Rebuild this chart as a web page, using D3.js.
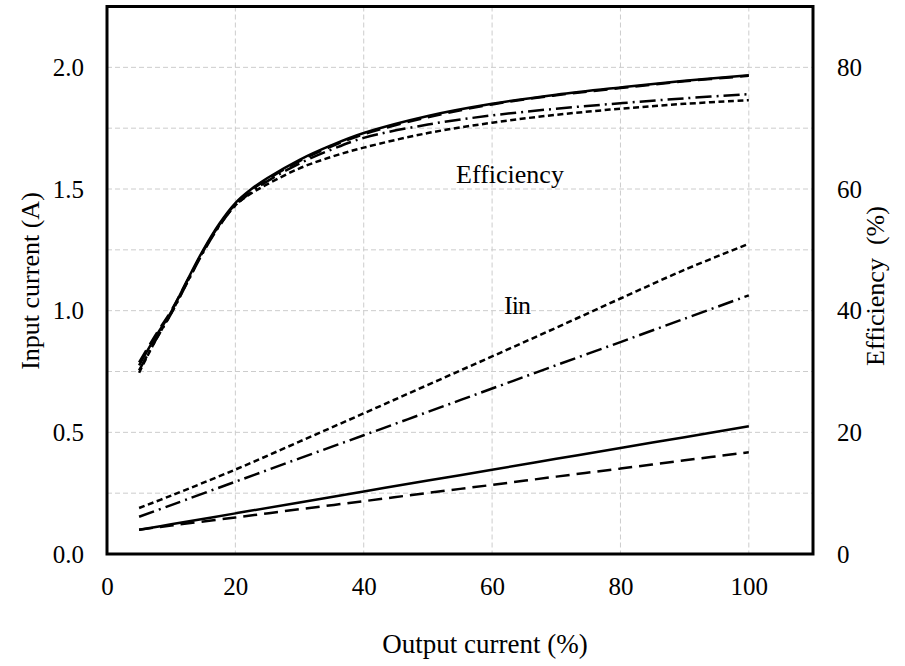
<!DOCTYPE html>
<html>
<head>
<meta charset="utf-8">
<script src="https://cdn.jsdelivr.net/npm/d3@7"></script>
<style>
  html, body { margin: 0; padding: 0; background: #fff; }
  svg text { font-family: "Liberation Serif", "Times New Roman", serif; fill: #000; }
</style>
</head>
<body>
<svg id="chart" width="905" height="666"></svg>
<script>
// Output current (%) sample points
const effLoad = [5, 7.5, 10, 12.5, 15, 17.5, 20, 22.5, 25, 30, 35, 40, 50, 60, 70, 80, 90, 100];
const iinLoad = [5, 10, 20, 30, 40, 50, 60, 70, 80, 90, 100];

// Efficiency (%) for the four cases
const effSolid     = [31.0, 35.6, 39.8, 45.0, 50.0, 54.3, 57.7, 60.0, 61.8, 64.8, 67.2, 69.2, 72.0, 74.0, 75.5, 76.7, 77.8, 78.7];
const effLongDash  = [31.5, 35.9, 40.0, 44.9, 49.8, 54.1, 57.5, 59.8, 61.6, 64.6, 67.0, 69.0, 71.8, 73.9, 75.4, 76.6, 77.7, 78.6];
const effDashDot   = [30.2, 35.0, 39.5, 44.6, 49.6, 53.9, 57.3, 59.5, 61.3, 64.2, 66.5, 68.4, 70.6, 72.1, 73.2, 74.1, 74.9, 75.6];
const effShortDash = [29.8, 35.0, 39.6, 44.7, 49.8, 54.0, 57.3, 59.3, 60.8, 63.4, 65.3, 66.8, 69.2, 70.9, 72.2, 73.2, 74.0, 74.6];

// Input current (A) for the four cases
const iinSolid     = [0.100, 0.122, 0.167, 0.212, 0.257, 0.302, 0.346, 0.391, 0.436, 0.480, 0.525];
const iinLongDash  = [0.100, 0.117, 0.150, 0.184, 0.217, 0.251, 0.284, 0.318, 0.351, 0.385, 0.418];
const iinDashDot   = [0.153, 0.201, 0.297, 0.393, 0.488, 0.584, 0.680, 0.776, 0.871, 0.967, 1.063];
const iinShortDash = [0.189, 0.240, 0.347, 0.462, 0.578, 0.695, 0.812, 0.930, 1.050, 1.168, 1.275];

// Tick values
const xTicks = [0, 20, 40, 60, 80, 100];
const yLeftTicks = [0.0, 0.5, 1.0, 1.5, 2.0];
const yRightTicks = [0, 20, 40, 60, 80];
const xGrid = [20, 40, 60, 80, 100];
const yGrid = [0.25, 0.5, 0.75, 1.0, 1.25, 1.5, 1.75, 2.0];

// Line styles: solid, long dash, dash-dot, short dash
const styles = {
  solid: null,
  longDash: "14,7",
  dashDot: "16,5,2,5",
  shortDash: "6,3.5"
};

const svg = d3.select("#chart");
const plotL = 107, plotR = 813, plotT = 6.5, plotB = 554;

const x = d3.scaleLinear().domain([0, 110]).range([plotL, plotR]);
const yL = d3.scaleLinear().domain([0, 2.25]).range([plotB, plotT]);
const yR = d3.scaleLinear().domain([0, 90]).range([plotB, plotT]);

// Grid
const grid = svg.append("g").attr("stroke", "#cccccc").attr("stroke-width", 1)
  .attr("stroke-dasharray", "5,3");
grid.selectAll("line.v").data(xGrid).join("line")
  .attr("class", "v")
  .attr("x1", d => x(d)).attr("x2", d => x(d))
  .attr("y1", plotT).attr("y2", plotB);
grid.selectAll("line.h").data(yGrid).join("line")
  .attr("class", "h")
  .attr("x1", plotL).attr("x2", plotR)
  .attr("y1", d => yL(d)).attr("y2", d => yL(d));

// Axes (labels only, no tick marks)
const fmt1 = d3.format(".1f");
const xAxis = d3.axisBottom(x).tickValues(xTicks).tickSize(0).tickPadding(0);
const gx = svg.append("g").attr("transform", `translate(0,${plotB})`).call(xAxis);
gx.select(".domain").remove();
gx.selectAll("text").attr("font-size", 25).attr("dy", null).attr("y", 41);

const yAxisL = d3.axisLeft(yL).tickValues(yLeftTicks).tickFormat(fmt1).tickSize(0).tickPadding(23);
const gyl = svg.append("g").attr("transform", `translate(${plotL},0)`).call(yAxisL);
gyl.select(".domain").remove();
gyl.selectAll("text").attr("font-size", 25);

const yAxisR = d3.axisRight(yR).tickValues(yRightTicks).tickSize(0).tickPadding(24);
const gyr = svg.append("g").attr("transform", `translate(${plotR},0)`).call(yAxisR);
gyr.select(".domain").remove();
gyr.selectAll("text").attr("font-size", 25);

// Series
const effSeries = [
  { v: effSolid, s: styles.solid },
  { v: effLongDash, s: styles.longDash },
  { v: effDashDot, s: styles.dashDot },
  { v: effShortDash, s: styles.shortDash }
];
const iinSeries = [
  { v: iinSolid, s: styles.solid },
  { v: iinLongDash, s: styles.longDash },
  { v: iinDashDot, s: styles.dashDot },
  { v: iinShortDash, s: styles.shortDash }
];

const effLine = d3.line().x((d, i) => x(effLoad[i])).y(d => yR(d)).curve(d3.curveCatmullRom.alpha(0.5));
const iinLine = d3.line().x((d, i) => x(iinLoad[i])).y(d => yL(d)).curve(d3.curveCatmullRom.alpha(0.5));

const lines = svg.append("g").attr("fill", "none").attr("stroke", "#000").attr("stroke-width", 2.5);
lines.selectAll("path.eff").data(effSeries).join("path")
  .attr("class", "eff")
  .attr("d", d => effLine(d.v))
  .attr("stroke-dasharray", d => d.s);
lines.selectAll("path.iin").data(iinSeries).join("path")
  .attr("class", "iin")
  .attr("d", d => iinLine(d.v))
  .attr("stroke-dasharray", d => d.s);

// Frame
svg.append("rect")
  .attr("x", plotL).attr("y", plotT)
  .attr("width", plotR - plotL).attr("height", plotB - plotT)
  .attr("fill", "none").attr("stroke", "#000").attr("stroke-width", 3);

// Annotations
svg.append("text").attr("x", 510).attr("y", 183).attr("text-anchor", "middle")
  .attr("font-size", 26).text("Efficiency");
svg.append("text").attr("x", 517).attr("y", 314).attr("text-anchor", "middle")
  .attr("font-size", 26).attr("letter-spacing", -1).text("Iin");

// Axis titles
svg.append("text").attr("x", 485).attr("y", 653).attr("text-anchor", "middle")
  .attr("font-size", 27).text("Output current (%)");
svg.append("text").attr("transform", "translate(39,281) rotate(-90)")
  .attr("text-anchor", "middle").attr("font-size", 26).text("Input current (A)");
svg.append("text").attr("transform", "translate(884,286) rotate(-90)")
  .attr("text-anchor", "middle").attr("font-size", 26)
  .style("white-space", "pre")
  .text("Efficiency  (%)");
</script>
</body>
</html>
